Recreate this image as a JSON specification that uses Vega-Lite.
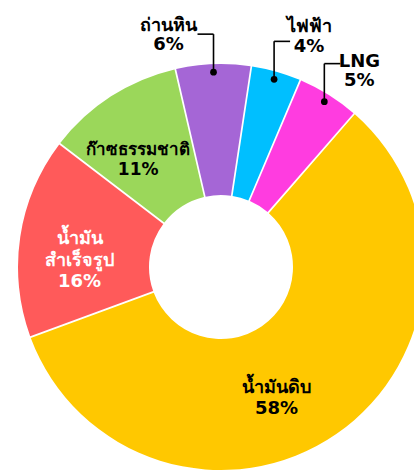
{
  "$schema": "https://vega.github.io/schema/vega-lite/v6.json",
  "autosize": {"type": "none"},
  "padding": {"left": 28, "top": 62, "right": 0, "bottom": 0},
  "width": 386,
  "height": 410,
  "background": "white",
  "config": {"view": {"stroke": null}, "font": "DejaVu Sans"},
  "data": {
    "values": [
      {"source": "ถ่านหิน", "label": "ถ่านหิน", "pct": 6, "order": 1},
      {"source": "ไฟฟ้า", "label": "ไฟฟ้า", "pct": 4, "order": 2},
      {"source": "LNG", "label": "LNG", "pct": 5, "order": 3},
      {"source": "น้ำมันดิบ", "label": "น้ำมันดิบ", "pct": 58, "order": 4},
      {"source": "น้ำมันสำเร็จรูป", "label": "น้ำมัน\nสำเร็จรูป", "pct": 16, "order": 5},
      {"source": "ก๊าซธรรมชาติ", "label": "ก๊าซธรรมชาติ", "pct": 11, "order": 6}
    ]
  },
  "transform": [
    {"calculate": "datum.label + '\\n' + datum.pct + '%'", "as": "text"},
    {"window": [{"op": "sum", "field": "pct", "as": "cum"}], "sort": [{"field": "order"}], "frame": [null, 0]},
    {"calculate": "-0.2269 + (datum.cum - datum.pct / 2) / 100 * 2 * PI", "as": "mid"},
    {"calculate": "195 * sin(datum.mid)", "as": "px"},
    {"calculate": "195 * cos(datum.mid)", "as": "py"},
    {"calculate": "datum.py + 38", "as": "ptop"},
    {"calculate": "datum.px + (datum.px < 0 ? -16 : 16)", "as": "pend"},
    {"calculate": "140 * sin(datum.mid)", "as": "tx"},
    {"calculate": "140 * cos(datum.mid)", "as": "ty"}
  ],
  "encoding": {
    "x": {"type": "quantitative", "axis": null, "scale": {"domain": [-193, 193], "nice": false, "zero": false}},
    "y": {"type": "quantitative", "axis": null, "scale": {"domain": [-205, 205], "nice": false, "zero": false}}
  },
  "layer": [
    {
      "mark": {"type": "arc", "outerRadius": 203, "innerRadius": 72, "padAngle": 0.008, "stroke": null},
      "encoding": {
        "x": null,
        "y": null,
        "theta": {"field": "pct", "type": "quantitative", "stack": true, "scale": {"range": [-0.2269, 6.0563]}},
        "order": {"field": "order", "type": "quantitative"},
        "color": {
          "field": "source", "type": "nominal", "legend": null,
          "scale": {
            "domain": ["ถ่านหิน", "ไฟฟ้า", "LNG", "น้ำมันดิบ", "น้ำมันสำเร็จรูป", "ก๊าซธรรมชาติ"],
            "range": ["#A566D6", "#00BFFF", "#FF3CE0", "#FFC800", "#FF5A5A", "#9BD75A"]
          }
        }
      }
    },
    {
      "transform": [{"filter": "datum.order <= 3"}],
      "mark": {"type": "rule", "color": "black", "strokeWidth": 1.6},
      "encoding": {
        "x": {"field": "px", "type": "quantitative"},
        "y": {"field": "py", "type": "quantitative"},
        "y2": {"field": "ptop"}
      }
    },
    {
      "transform": [{"filter": "datum.order <= 3"}],
      "mark": {"type": "rule", "color": "black", "strokeWidth": 1.6},
      "encoding": {
        "x": {"field": "px", "type": "quantitative"},
        "x2": {"field": "pend"},
        "y": {"field": "ptop", "type": "quantitative"}
      }
    },
    {
      "transform": [{"filter": "datum.order <= 3"}],
      "mark": {"type": "point", "filled": true, "color": "black", "size": 45, "opacity": 1},
      "encoding": {
        "x": {"field": "px", "type": "quantitative"},
        "y": {"field": "py", "type": "quantitative"}
      }
    },
    {
      "transform": [{"filter": "datum.order == 1"}],
      "mark": {"type": "text", "lineBreak": "\n", "fontSize": 18, "fontWeight": "bold", "color": "black", "align": "center", "baseline": "middle", "dx": -29, "dy": -8, "lineHeight": 19},
      "encoding": {
        "x": {"field": "pend", "type": "quantitative"},
        "y": {"field": "ptop", "type": "quantitative"},
        "text": {"field": "text"}
      }
    },
    {
      "transform": [{"filter": "datum.order == 2"}],
      "mark": {"type": "text", "lineBreak": "\n", "fontSize": 18, "fontWeight": "bold", "color": "black", "align": "center", "baseline": "middle", "dx": 19, "dy": -14, "lineHeight": 20},
      "encoding": {
        "x": {"field": "pend", "type": "quantitative"},
        "y": {"field": "ptop", "type": "quantitative"},
        "text": {"field": "text"}
      }
    },
    {
      "transform": [{"filter": "datum.order == 3"}],
      "mark": {"type": "text", "lineBreak": "\n", "fontSize": 18, "fontWeight": "bold", "color": "black", "align": "center", "baseline": "middle", "dx": 19, "dy": -2, "lineHeight": 19},
      "encoding": {
        "x": {"field": "pend", "type": "quantitative"},
        "y": {"field": "ptop", "type": "quantitative"},
        "text": {"field": "text"}
      }
    },
    {
      "transform": [{"filter": "datum.order == 4"}],
      "mark": {"type": "text", "lineBreak": "\n", "fontSize": 18, "fontWeight": "bold", "color": "black", "align": "center", "baseline": "middle", "dx": -24, "dy": 6, "lineHeight": 21},
      "encoding": {
        "x": {"field": "tx", "type": "quantitative"},
        "y": {"field": "ty", "type": "quantitative"},
        "text": {"field": "text"}
      }
    },
    {
      "transform": [{"filter": "datum.order == 5"}],
      "mark": {"type": "text", "lineBreak": "\n", "fontSize": 18, "fontWeight": "bold", "color": "white", "align": "center", "baseline": "middle", "dx": -3, "dy": -7, "lineHeight": 21.5},
      "encoding": {
        "x": {"field": "tx", "type": "quantitative"},
        "y": {"field": "ty", "type": "quantitative"},
        "text": {"field": "text"}
      }
    },
    {
      "transform": [{"filter": "datum.order == 6"}],
      "mark": {"type": "text", "lineBreak": "\n", "fontSize": 17, "fontWeight": "bold", "color": "black", "align": "center", "baseline": "middle", "dx": -7, "dy": 1, "lineHeight": 20},
      "encoding": {
        "x": {"field": "tx", "type": "quantitative"},
        "y": {"field": "ty", "type": "quantitative"},
        "text": {"field": "text"}
      }
    }
  ]
}
